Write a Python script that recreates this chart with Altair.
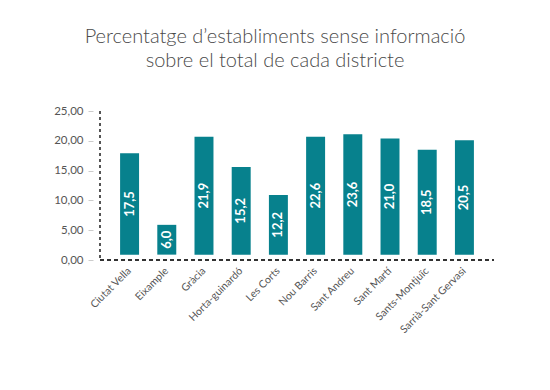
import altair as alt
import pandas as pd

districtes = ["Ciutat Vella", "Eixample", "Gràcia", "Horta-guinardó", "Les Corts",
              "Nou Barris", "Sant Andreu", "Sant Martí", "Sants-Montjuïc", "Sarrià-Sant Gervasi"]
etiquetes = ["17,5", "6,0", "21,9", "15,2", "12,2", "22,6", "23,6", "21,0", "18,5", "20,5"]
altura = [17.9, 5.9, 20.7, 15.6, 10.9, 20.7, 21.1, 20.4, 18.5, 20.1]
base = [0.9] * 10
y_ticks = [0, 5, 10, 15, 20, 25]

df = pd.DataFrame({"districte": districtes, "etiqueta": etiquetes,
                   "altura": altura, "base": base})

W, H = 394, 149
FONT = "Lato"
TEAL = "#07818d"
GREY = "#555555"

xscale = alt.Scale(paddingInner=0.49, paddingOuter=0.54)
xaxis = alt.Axis(title=None, labelAngle=-45, labelAlign="right",
                 labelBaseline="middle", labelPadding=9, labelFontSize=10.5,
                 labelColor=GREY, labelFont=FONT, domain=False, ticks=False,
                 labelOverlap=False)
yscale = alt.Scale(domain=[0, 25])
yaxis = alt.Axis(title=None, values=y_ticks, grid=False, domain=False,
                 offset=7, tickSize=5, tickColor="#cccccc", labelPadding=5,
                 labelFontSize=11.5, labelColor=GREY, labelFont=FONT,
                 labelOverlap=False, labelFlush=False,
                 labelExpr="replace(format(datum.value, '.2f'), '.', ',')")

bars = alt.Chart(df).mark_bar(color=TEAL).encode(
    x=alt.X("districte:N", sort=districtes, scale=xscale, axis=xaxis),
    y=alt.Y("altura:Q", scale=yscale, axis=yaxis),
    y2="base:Q",
)

text = alt.Chart(df).transform_calculate(
    mid="(datum.altura + datum.base) / 2"
).mark_text(angle=270, color="white", fontWeight="bold", fontSize=13, font=FONT,
            align="center", baseline="middle").encode(
    x=alt.X("districte:N", sort=districtes, scale=xscale, axis=xaxis),
    y=alt.Y("mid:Q", scale=yscale, axis=yaxis),
    text="etiqueta:N",
)

vline = alt.Chart(df).mark_rule(color="#555555", strokeDash=[3, 3], strokeWidth=1).encode(
    x=alt.value(0), y=alt.value(0), y2=alt.value(H))
hline = alt.Chart(df).mark_rule(color="#333333", strokeDash=[4, 3], strokeWidth=1).encode(
    x=alt.value(0), x2=alt.value(W), y=alt.value(H))

chart = alt.layer(bars, text, vline, hline).properties(
    width=W, height=H,
    autosize=alt.AutoSizeParams(type="none"),
    padding={"left": 92, "top": 103, "right": 48, "bottom": 122},
    title=alt.TitleParams(
        text=["Percentatge d’establiments sense informació", "sobre el total de cada districte"],
        font=FONT, fontSize=20, fontWeight=300, color="#4a4a4a", anchor="middle",
        lineHeight=24.5, offset=34, dx=-22),
).configure_view(stroke=None)

chart.save("out.html", embed_options={"renderer": "svg", "actions": False})
